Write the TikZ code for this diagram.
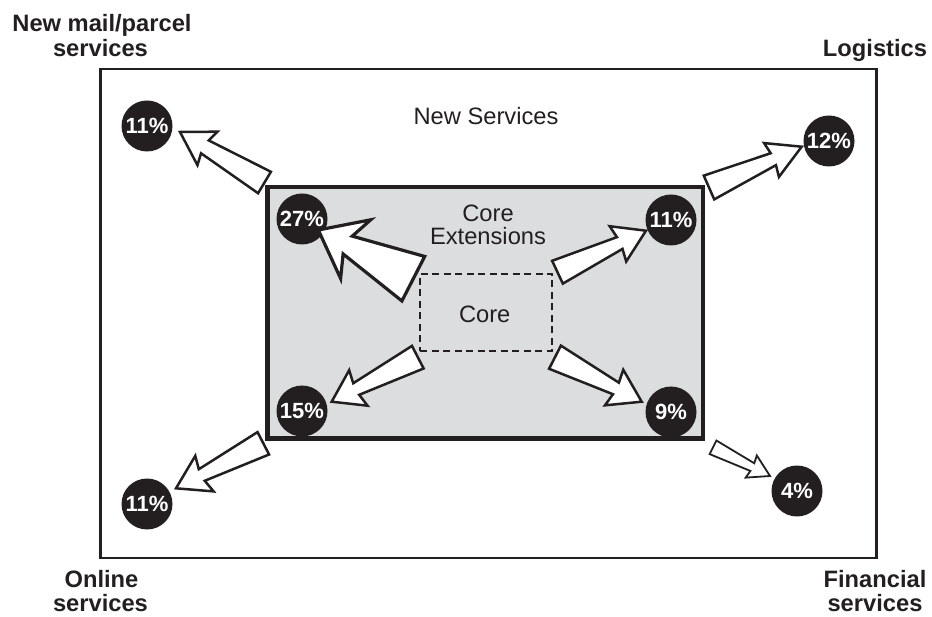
\documentclass[tikz,border=0pt]{standalone}
\usepackage{fontspec}
\setmainfont{Liberation Sans}
\usetikzlibrary{calc}
\definecolor{ink}{HTML}{231F20}
\definecolor{coregray}{HTML}{DCDDDF}
% #1 tail centre, #2 tip, #3 tail half width, #4 neck half width,
% #5 head half width, #6 head length, #7 neck distance from tip, #8 line width
\newcommand\blockarr[8]{%
  \coordinate (ba-w) at ($(#2)!#6pt!(#1)$);
  \coordinate (ba-k) at ($(#2)!#7pt!(#1)$);
  \draw[blockarrow=#8pt]
    ($(#1)!#3pt!90:(#2)$) -- ($(ba-k)!#4pt!90:(#2)$) -- ($(ba-w)!#5pt!90:(#2)$)
    -- (#2)
    -- ($(ba-w)!#5pt!-90:(#2)$) -- ($(ba-k)!#4pt!-90:(#2)$) -- ($(#1)!#3pt!-90:(#2)$)
    -- cycle;
}
\begin{document}
\begin{tikzpicture}[x=1pt,y=-1pt,
  pct/.style={circle, fill=ink, text=white, minimum size=51pt, inner sep=0pt,
              font=\fontsize{22}{22}\selectfont\bfseries},
  lbl/.style={anchor=base, text=ink, inner sep=0pt, font=\fontsize{23.7}{24}\selectfont},
  blbl/.style={anchor=base, text=ink, inner sep=0pt, font=\fontsize{23.7}{24}\selectfont\bfseries},
  blockarrow/.style={draw=ink, fill=white, line join=miter, line width=#1},
  boxframe/.style={draw=ink, inner sep=0pt, outer sep=0pt}
]
\useasboundingbox (0,0) rectangle (932,617);

% frames
\node[boxframe, line width=2.5pt, minimum width=775.7pt, minimum height=489pt] (outer) at (488.4,313.5) {};
\node[boxframe, fill=coregray, line width=4.5pt, minimum width=435.5pt, minimum height=251.3pt] (ext) at (485.25,312.65) {};
\node[boxframe, line width=2pt, dash pattern=on 7pt off 4.5pt, minimum width=132pt, minimum height=77pt] (core) at (486,312.5) {};

% texts
\node[lbl] (tnew) at (486,124.3) {New Services};
\node[lbl] (text1) at (488,221.7) {Core};
\node[lbl] (text2) at (488,245) {Extensions};
\node[lbl] (tcore) at (484.7,322.3) {Core};

\node[blbl] (nm1) at (102,32) {New mail/parcel};
\node[blbl] (nm2) at (100.5,57) {services};
\node[blbl] (lg) at (875,56.7) {Logistics};
\node[blbl] (on1) at (101.5,587) {Online};
\node[blbl] (on2) at (100.5,611.5) {services};
\node[blbl] (fi1) at (875,587) {Financial};
\node[blbl] (fi2) at (875,611.5) {services};

% circles
\node[pct] (c1) at (147,126) {11\%};
\node[pct] (c2) at (302,219) {27\%};
\node[pct] (c3) at (671,220) {11\%};
\node[pct] (c4) at (829,141) {12\%};
\node[pct] (c5) at (302,411) {15\%};
\node[pct] (c6) at (671,412) {9\%};
\node[pct] (c7) at (147,504) {11\%};
\node[pct] (c8) at (797,491) {4\%};

% arrow ends
\coordinate (t1) at (264.5,182.5); \coordinate (p1) at (180,132);
\coordinate (t2) at (413.3,278.7); \coordinate (p2) at (318.3,230);
\coordinate (t3) at (557.5,272.2); \coordinate (p3) at (646,230.7);
\coordinate (t4) at (709,187.5);   \coordinate (p4) at (801.7,146.7);
\coordinate (t5) at (417.8,357.2); \coordinate (p5) at (331.7,401.7);
\coordinate (t6) at (555,357.2);   \coordinate (p6) at (641.7,401.7);
\coordinate (t7) at (263.3,443.3); \coordinate (p7) at (176,488.3);
\coordinate (t8) at (713,447.3);   \coordinate (p8) at (770,476);

% arrows
\blockarr{t1}{p1}{12.5}{7.5}{19.5}{32}{29}{2.5}
\blockarr{t2}{p2}{25}{10}{33}{42}{33}{3.2}
\blockarr{t3}{p3}{12.6}{6.5}{19.5}{31}{29}{2.5}
\blockarr{t4}{p4}{13}{6.5}{18.5}{33}{31}{2.5}
\blockarr{t5}{p5}{12.7}{6.5}{20}{30}{27.6}{2.5}
\blockarr{t6}{p6}{13}{6.5}{20}{31}{29}{2.5}
\blockarr{t7}{p7}{12.6}{6.5}{20}{32}{29}{2.5}
\blockarr{t8}{p8}{7.6}{4.3}{12.4}{21}{19.8}{1.8}
\end{tikzpicture}
\end{document}
